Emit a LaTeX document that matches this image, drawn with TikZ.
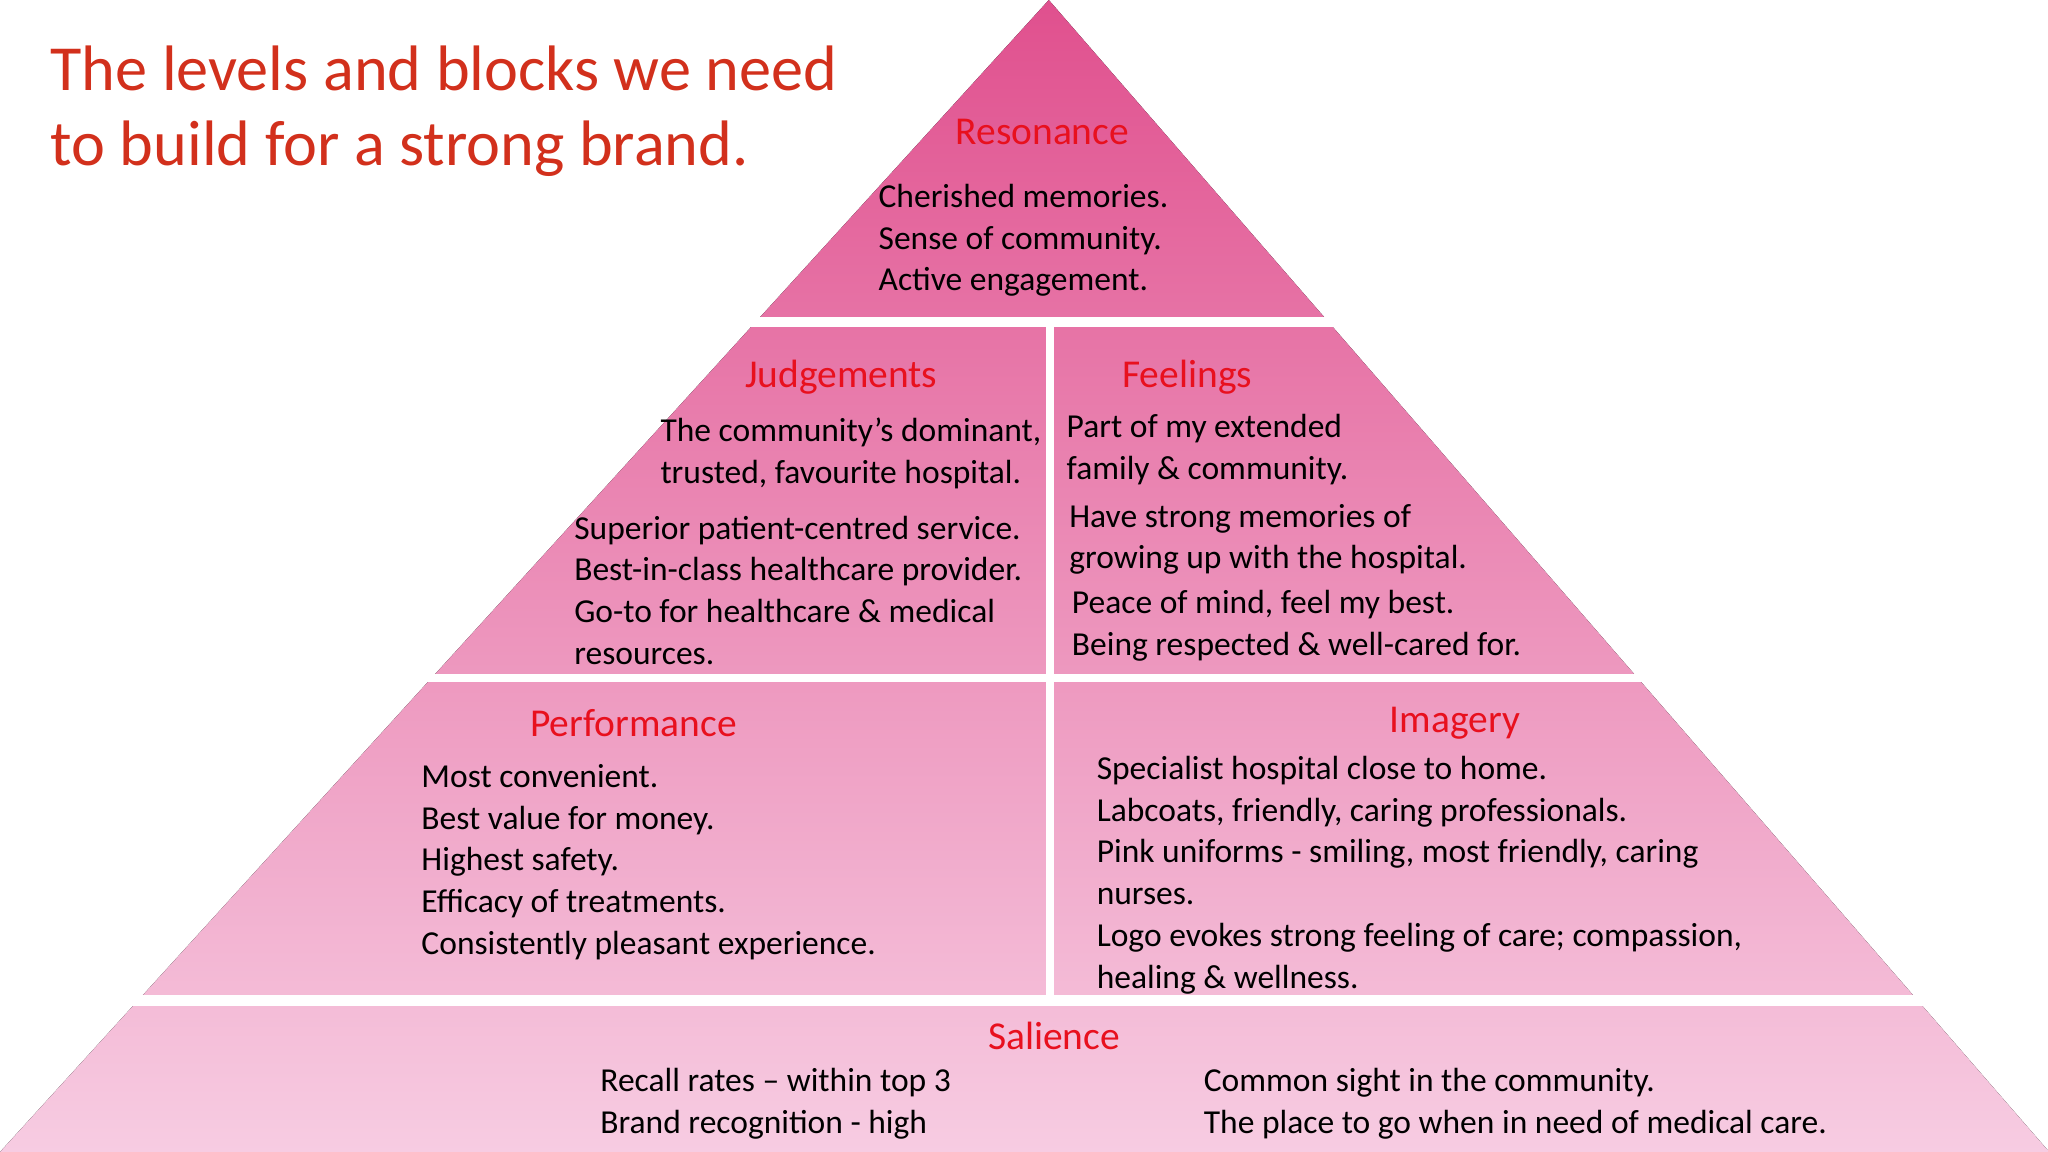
\documentclass[tikz,border=0pt]{standalone}
\usepackage{fontspec}
\setmainfont{Carlito}
\definecolor{ptop}{HTML}{E0508E}
\definecolor{pbot}{HTML}{F7CCE2}
\definecolor{hred}{HTML}{E8101E}
\definecolor{tred}{HTML}{D2301C}
\begin{document}
\begin{tikzpicture}[x=0.1mm,y=-0.1mm,
  body/.style={anchor=west,inner sep=0,font=\fontsize{7.3}{9.1}\selectfont,align=left},
  head/.style={inner sep=0,text=hred,font=\fontsize{8.6}{10}\selectfont},
  gap/.style={fill=white,draw=none}]
\useasboundingbox (0,0) rectangle (1568,882);
\fill[top color=ptop,bottom color=pbot] (803,0) -- (1569,882) -- (0,882) -- cycle;
\fill[gap] (0,243) rectangle (1568,250);
\fill[gap] (0,516) rectangle (1568,522);
\fill[gap] (0,762) rectangle (1568,770);
\fill[gap] (801,250) rectangle (807,762);
\node[anchor=west,inner sep=0,text=tred,align=left,font=\fontsize{14}{16.3}\selectfont] (title) at (38,85) {The levels and blocks we need\\to build for a strong brand.};
\node[head] (res) at (798,101) {Resonance};
\node[body] (rest) at (672,184) {Cherished memories.\\Sense of community.\\Active engagement.};
\node[head] (jud) at (644,289) {Judgements};
\node[body] (jud1) at (505,347) {The community’s dominant,\\trusted, favourite hospital.};
\node[body] (jud2) at (439,452) {Superior patient-centred service.\\Best-in-class healthcare provider.\\Go-to for healthcare \& medical\\resources.};
\node[head] (fee) at (909,289) {Feelings};
\node[body] (fee1) at (816,344) {Part of my extended\\family \& community.};
\node[body] (fee2) at (818,413) {Have strong memories of\\growing up with the hospital.};
\node[body] (fee3) at (820,479) {Peace of mind, feel my best.\\Being respected \& well-cared for.};
\node[head] (per) at (485,554) {Performance};
\node[body] (pert) at (322,660) {Most convenient.\\Best value for money.\\Highest safety.\\Efficacy of treatments.\\Consistently pleasant experience.};
\node[head] (ima) at (1114,554) {Imagery};
\node[body] (imat) at (839,670) {Specialist hospital close to home.\\Labcoats, friendly, caring professionals.\\Pink uniforms - smiling, most friendly, caring\\nurses.\\Logo evokes strong feeling of care; compassion,\\healing \& wellness.};
\node[head] (sal) at (807,793) {Salience};
\node[body] (sal1) at (459,845) {Recall rates – within top 3\\Brand recognition - high};
\node[body] (sal2) at (921,845) {Common sight in the community.\\The place to go when in need of medical care.};
\end{tikzpicture}
\end{document}
